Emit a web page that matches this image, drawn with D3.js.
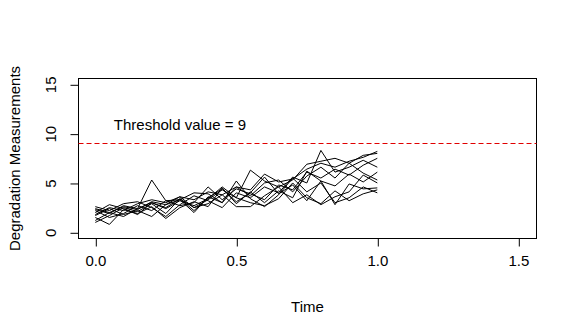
<!DOCTYPE html>
<html>
<head>
<meta charset="utf-8">
<script src="https://cdn.jsdelivr.net/npm/d3@7"></script>
<style>
  body { margin: 0; background: #fff; }
  text { font-family: "Liberation Sans", Arial, sans-serif; font-size: 15px; fill: #000; }
</style>
</head>
<body>
<div id="chart"></div>
<script>
// time grid (21 inspections, 0 .. 1)
var times = [0, 0.05, 0.1, 0.15, 0.2, 0.25, 0.3, 0.35, 0.4, 0.45, 0.5,
             0.55, 0.6, 0.65, 0.7, 0.75, 0.8, 0.85, 0.9, 0.95, 1.0];

// degradation paths, one per unit
var path1  = [1.8,2.5,2.2,2.9,3.3,3.0,3.6,3.3,4.1,3.8,4.6,4.3,5.9,5.1,5.4,6.4,7.0,6.6,7.2,7.6,8.2];
var path2  = [2.3,1.9,2.7,2.4,3.0,2.5,3.4,2.2,3.5,4.4,3.1,4.0,5.6,3.9,4.8,3.2,5.2,4.7,5.9,5.1,6.1];
var path3  = [1.2,2.0,1.6,2.4,5.3,3.2,3.3,2.0,3.6,3.0,5.2,3.4,2.6,3.8,5.5,4.1,5.0,3.0,3.5,4.6,4.0];
var path4  = [2.0,2.8,2.4,1.8,3.0,2.4,3.2,2.7,3.4,4.6,3.5,6.3,5.2,4.6,5.3,6.9,7.2,7.5,7.0,7.8,8.0];
var path5  = [1.5,0.8,2.3,1.9,2.6,1.4,2.5,3.1,2.6,4.5,2.9,4.1,3.0,4.2,3.5,6.2,5.2,2.8,4.9,4.4,4.5];
var path6  = [2.6,2.2,2.9,3.1,2.5,1.6,2.8,3.7,3.2,2.5,4.0,3.5,4.6,4.0,5.6,5.0,8.3,6.1,6.6,7.3,6.6];
var path7  = [1.0,1.7,2.5,2.1,2.9,1.9,3.4,2.5,2.9,3.8,2.6,2.6,3.7,4.6,3.0,3.8,2.8,3.6,4.1,5.8,5.0];
var path8  = [2.2,1.5,1.9,2.7,2.2,3.2,2.7,3.0,4.6,3.3,4.4,3.9,3.3,4.8,4.3,6.1,5.5,6.4,5.8,6.8,7.5];
var path9  = [1.7,2.4,1.8,2.2,1.6,2.8,3.6,2.5,3.3,4.3,3.5,3.0,2.7,3.4,5.0,3.5,2.9,4.2,3.2,3.9,4.3];
var path10 = [2.4,2.0,2.6,2.3,3.1,2.8,3.3,4.0,3.9,3.0,4.6,3.7,5.0,5.3,4.1,5.7,6.6,5.5,7.0,6.0,5.3];
var paths = [path1, path2, path3, path4, path5, path6, path7, path8, path9, path10];

var threshold = 9;
var xTicks = [0, 0.5, 1.0, 1.5];
var yTicks = [0, 5, 10, 15];

var width = 577, height = 336;

var svg = d3.select("#chart").append("svg")
    .attr("width", width)
    .attr("height", height);

// plot box (R style)
var box = { left: 78.5, right: 536.5, top: 78.5, bottom: 238.5 };

var x = d3.scaleLinear().domain([0, 1]).range([95.3, 377.3]);
var y = d3.scaleLinear().domain([0, 15]).range([232.3, 84.3]);

svg.append("rect")
    .attr("x", box.left).attr("y", box.top)
    .attr("width", box.right - box.left)
    .attr("height", box.bottom - box.top)
    .attr("fill", "none")
    .attr("stroke", "#000");

// x axis
var xAxis = d3.axisBottom(x)
    .tickValues(xTicks)
    .tickFormat(d3.format(".1f"))
    .tickSize(8)
    .tickPadding(9);
var gx = svg.append("g")
    .attr("transform", "translate(0," + box.bottom + ")")
    .call(xAxis);
gx.select(".domain").remove();
gx.selectAll("line").attr("transform", "translate(0.5,0)").attr("stroke", "#000");
gx.selectAll("text").attr("font-size", null).attr("font-family", null).attr("fill", "#000");

// y axis (labels rotated like R)
var yAxis = d3.axisLeft(y)
    .tickValues(yTicks)
    .tickSize(8);
var gy = svg.append("g")
    .attr("transform", "translate(" + box.left + ",0)")
    .call(yAxis);
gy.select(".domain").remove();
gy.selectAll("line").attr("transform", "translate(0,0.5)").attr("stroke", "#000");
gy.selectAll("text")
    .attr("font-size", null).attr("font-family", null).attr("fill", "#000")
    .attr("x", null).attr("dy", null)
    .attr("text-anchor", "middle")
    .attr("transform", "translate(-23,0) rotate(-90)");

// axis titles
svg.append("text")
    .attr("x", (box.left + box.right) / 2)
    .attr("y", 311.5)
    .attr("text-anchor", "middle")
    .text("Time");

svg.append("text")
    .attr("transform", "translate(19.5," + (box.top + box.bottom) / 2 + ") rotate(-90)")
    .attr("text-anchor", "middle")
    .text("Degradation Measurements");

// degradation paths
var line = d3.line()
    .x(function(d, i) { return x(times[i]); })
    .y(function(d) { return y(d); });

svg.append("g")
    .selectAll("path")
    .data(paths)
    .enter().append("path")
    .attr("d", line)
    .attr("fill", "none")
    .attr("stroke", "#000")
    .attr("stroke-width", 1);

// threshold
svg.append("line")
    .attr("x1", box.left).attr("x2", box.right)
    .attr("y1", y(threshold)).attr("y2", y(threshold))
    .attr("stroke", "#e00000")
    .attr("stroke-width", 1)
    .attr("stroke-dasharray", "5,3");

svg.append("text")
    .attr("x", x(0.3))
    .attr("y", y(10.9) + 5.4)
    .attr("text-anchor", "middle")
    .text("Threshold value = " + threshold);
</script>
</body>
</html>
